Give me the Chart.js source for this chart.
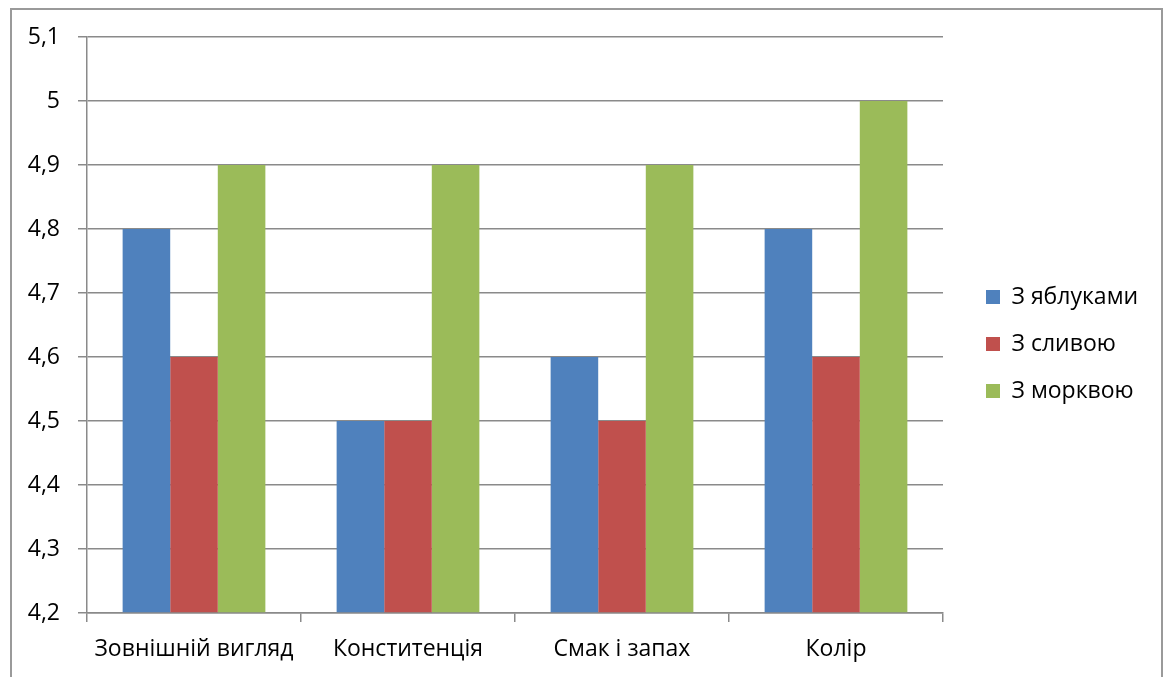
<!DOCTYPE html>
<html lang="uk">
<head>
<meta charset="utf-8">
<title>Оцінка зразків</title>
<script src="https://cdn.jsdelivr.net/npm/chart.js@4.4.1/dist/chart.umd.min.js"></script>
<style>
  html, body { margin: 0; padding: 0; background: #fff; overflow: hidden; }
  #wrap { position: relative; width: 1165px; height: 677px; }
  #frame {
    position: absolute; left: 10px; top: 8px; width: 1153px; height: 720px;
    border: 2px solid #9a9a9a; box-sizing: border-box; pointer-events: none;
  }
  canvas { position: absolute; left: 0; top: 0; }
</style>
</head>
<body>
<div id="wrap">
  <div id="frame"></div>
  <canvas id="chart" width="1165" height="677"></canvas>
</div>
<script>
// Criteria rated for each sample
const categories = ['Зовнішній вигляд', 'Конститенція', 'Смак і запах', 'Колір'];

// Average scores per sample
const seriesNames = ['З яблуками', 'З сливою', 'З морквою'];
const withApples = [4.8, 4.5, 4.6, 4.8];
const withPlum = [4.6, 4.5, 4.5, 4.6];
const withCarrot = [4.9, 4.9, 4.9, 5.0];

const seriesColors = ['#4F81BD', '#C0504D', '#9BBB59'];

// Value axis range
const yMin = 4.2;
const yMax = 5.1;
const yStep = 0.1;

const FONT = '"Open Sans", "Noto Sans", "DejaVu Sans", sans-serif';
const FONT_SIZE = 23;
const AXIS_GREY = '#8a8a8a';

// Legend geometry
const LEGEND_BOX = 14;
const LEGEND_PAD = 24;
const LEGEND_LEFT = 962;   // left edge of the legend block
const PLOT_RIGHT = 943;    // right edge of the plot area

// Width that Chart.js will give the legend, so the plot edge stays put
const measureCtx = document.createElement('canvas').getContext('2d');
measureCtx.font = FONT_SIZE + 'px ' + FONT;
const maxLabelWidth = Math.max(...seriesNames.map(t => measureCtx.measureText(t).width));
const legendWidth = LEGEND_PAD + LEGEND_BOX + FONT_SIZE / 2 + maxLabelWidth + 10;
const rightPadding = Math.max(0, 1165 - LEGEND_LEFT - legendWidth);

const seriesValues = [withApples, withPlum, withCarrot];

const datasets = seriesValues.map((vals, i) => ({
  label: seriesNames[i],
  data: vals,
  backgroundColor: seriesColors[i],
  borderWidth: 0,
  base: yMin,
  categoryPercentage: 0.667,
  barPercentage: 1.0
}));

new Chart(document.getElementById('chart'), {
  type: 'bar',
  data: { labels: categories, datasets },
  options: {
    responsive: false,
    animation: false,
    devicePixelRatio: 1,
    layout: { padding: { left: 0, top: 11, right: rightPadding, bottom: 0 } },
    plugins: {
      tooltip: { enabled: false },
      legend: {
        position: 'right',
        labels: {
          boxWidth: LEGEND_BOX,
          boxHeight: LEGEND_BOX,
          padding: LEGEND_PAD,
          color: '#000',
          font: { family: FONT, size: FONT_SIZE }
        }
      }
    },
    scales: {
      x: {
        grid: {
          display: true,
          drawOnChartArea: false,
          drawTicks: true,
          tickLength: 9,
          color: AXIS_GREY,
          lineWidth: 1.5,
          offset: true
        },
        border: { display: true, color: AXIS_GREY, width: 1.5 },
        ticks: {
          color: '#000',
          padding: 14,
          maxRotation: 0,
          autoSkip: false,
          font: { family: FONT, size: FONT_SIZE }
        },
        afterFit(scale) { scale.height = 64; }
      },
      y: {
        min: yMin,
        max: yMax,
        grid: {
          color: AXIS_GREY,
          lineWidth: 1.5,
          tickLength: 9,
          drawTicks: true
        },
        border: { display: true, color: AXIS_GREY, width: 1.5 },
        ticks: {
          stepSize: yStep,
          color: '#000',
          padding: 18,
          font: { family: FONT, size: FONT_SIZE },
          callback(value) {
            return String(Math.round(value * 10) / 10).replace('.', ',');
          }
        },
        afterFit(scale) { scale.width = 87; }
      },
      // empty band above the plot
      gapTop: {
        type: 'linear',
        position: 'top',
        display: true,
        grid: { display: false, drawTicks: false },
        border: { display: false },
        ticks: { display: false },
        afterFit(scale) { scale.height = 26; }
      },
      // empty gap between the plot and the legend
      gapRight: {
        type: 'linear',
        position: 'right',
        display: true,
        grid: { display: false, drawTicks: false },
        border: { display: false },
        ticks: { display: false },
        afterFit(scale) { scale.width = LEGEND_LEFT - PLOT_RIGHT; }
      }
    }
  }
});
</script>
</body>
</html>
